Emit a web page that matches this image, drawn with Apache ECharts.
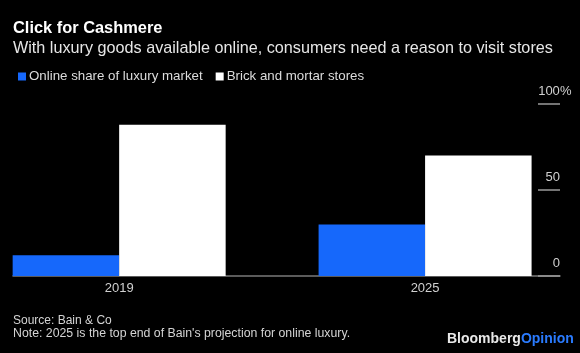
<!DOCTYPE html>
<html>
<head>
<meta charset="utf-8">
<script src="https://cdn.jsdelivr.net/npm/echarts@6/dist/echarts.min.js"></script>
<style>
html, body { margin: 0; padding: 0; background: #000; }
#chart { width: 580px; height: 353px; }
</style>
</head>
<body>
<div id="chart"></div>
<script>
let years = ['2019', '2025']
let onlineShare = [12, 30]
let brickShare = [88, 70]

let blue = '#1668fb'
let font = '"Liberation Sans", Arial, sans-serif'

let chart = echarts.init(document.getElementById('chart'))

let option = {
    backgroundColor: '#000',
    animation: false,
    graphic: [
        { type: 'text', x: 13, y: 28.5, style: { text: 'Click for Cashmere', font: 'bold 16.4px ' + font, fill: '#fff', verticalAlign: 'middle' } },
        { type: 'text', x: 13, y: 49, style: { text: 'With luxury goods available online, consumers need a reason to visit stores', font: '16.2px ' + font, fill: '#e6e6e6', verticalAlign: 'middle' } },
        { type: 'text', x: 13, y: 321, style: { text: 'Source: Bain & Co', font: '12px ' + font, fill: '#d4d4d4', verticalAlign: 'middle' } },
        { type: 'text', x: 13, y: 334, style: { text: 'Note: 2025 is the top end of Bain\'s projection for online luxury.', font: '12.3px ' + font, fill: '#d4d4d4', verticalAlign: 'middle' } },
        // logo
        {
            type: 'text', x: 447, y: 339,
            style: {
                text: '{a|Bloomberg}{b|Opinion}',
                verticalAlign: 'middle',
                rich: {
                    a: { font: 'bold 14px ' + font, fill: '#e8e8e8' },
                    b: { font: 'bold 14px ' + font, fill: '#2a7bff' }
                }
            }
        }
    ],
    legend: {
        left: 13,
        top: 65,
        icon: 'rect',
        itemWidth: 8,
        itemHeight: 8,
        itemGap: 13,
        textStyle: { color: '#dcdcdc', fontSize: 13.3, fontFamily: font, padding: [0, 0, 0, -2] },
        data: ['Online share of luxury market', 'Brick and mortar stores']
    },
    grid: { left: 13, right: 20, top: 104, bottom: 77 },
    xAxis: {
        type: 'value',
        min: -0.347,
        max: 1.441,
        splitLine: { show: false },
        axisTick: { show: false },
        axisLine: { show: true, lineStyle: { color: '#7a7a7a', width: 1.5 } },
        axisLabel: {
            customValues: [0, 1],
            formatter: (v) => years[Math.round(v)],
            color: '#d0d0d0',
            fontSize: 13,
            fontFamily: font,
            margin: 6
        }
    },
    yAxis: {
        type: 'value',
        position: 'right',
        min: 0,
        max: 100,
        interval: 50,
        splitLine: { show: false },
        axisLine: { show: false, onZero: false },
        axisTick: { show: true, inside: true, length: 22, lineStyle: { color: '#9a9a9a', width: 1.5 } },
        axisLabel: {
            inside: true,
            margin: 22,
            align: 'left',
            verticalAlign: 'bottom',
            color: '#d0d0d0',
            fontSize: 13,
            fontFamily: font,
            padding: [0, 0, 6, 0],
            // numbers right-aligned to the tick end, % hangs past it
            formatter: (v) => v === 100 ? '{n|100}{p|%}' : '{n|' + v + '}',
            rich: {
                n: { fontSize: 13, fontFamily: font, color: '#d0d0d0', width: 22, align: 'right' },
                p: { fontSize: 13, fontFamily: font, color: '#d0d0d0' }
            }
        }
    },
    series: [
        {
            name: 'Online share of luxury market',
            type: 'bar',
            barWidth: 106.5,
            barGap: '0%',
            itemStyle: { color: blue },
            data: onlineShare.map((v, i) => [i, v])
        },
        {
            name: 'Brick and mortar stores',
            type: 'bar',
            barWidth: 106.5,
            barGap: '0%',
            itemStyle: { color: '#fff' },
            data: brickShare.map((v, i) => [i, v])
        }
    ]
}

chart.setOption(option)
</script>
</body>
</html>
